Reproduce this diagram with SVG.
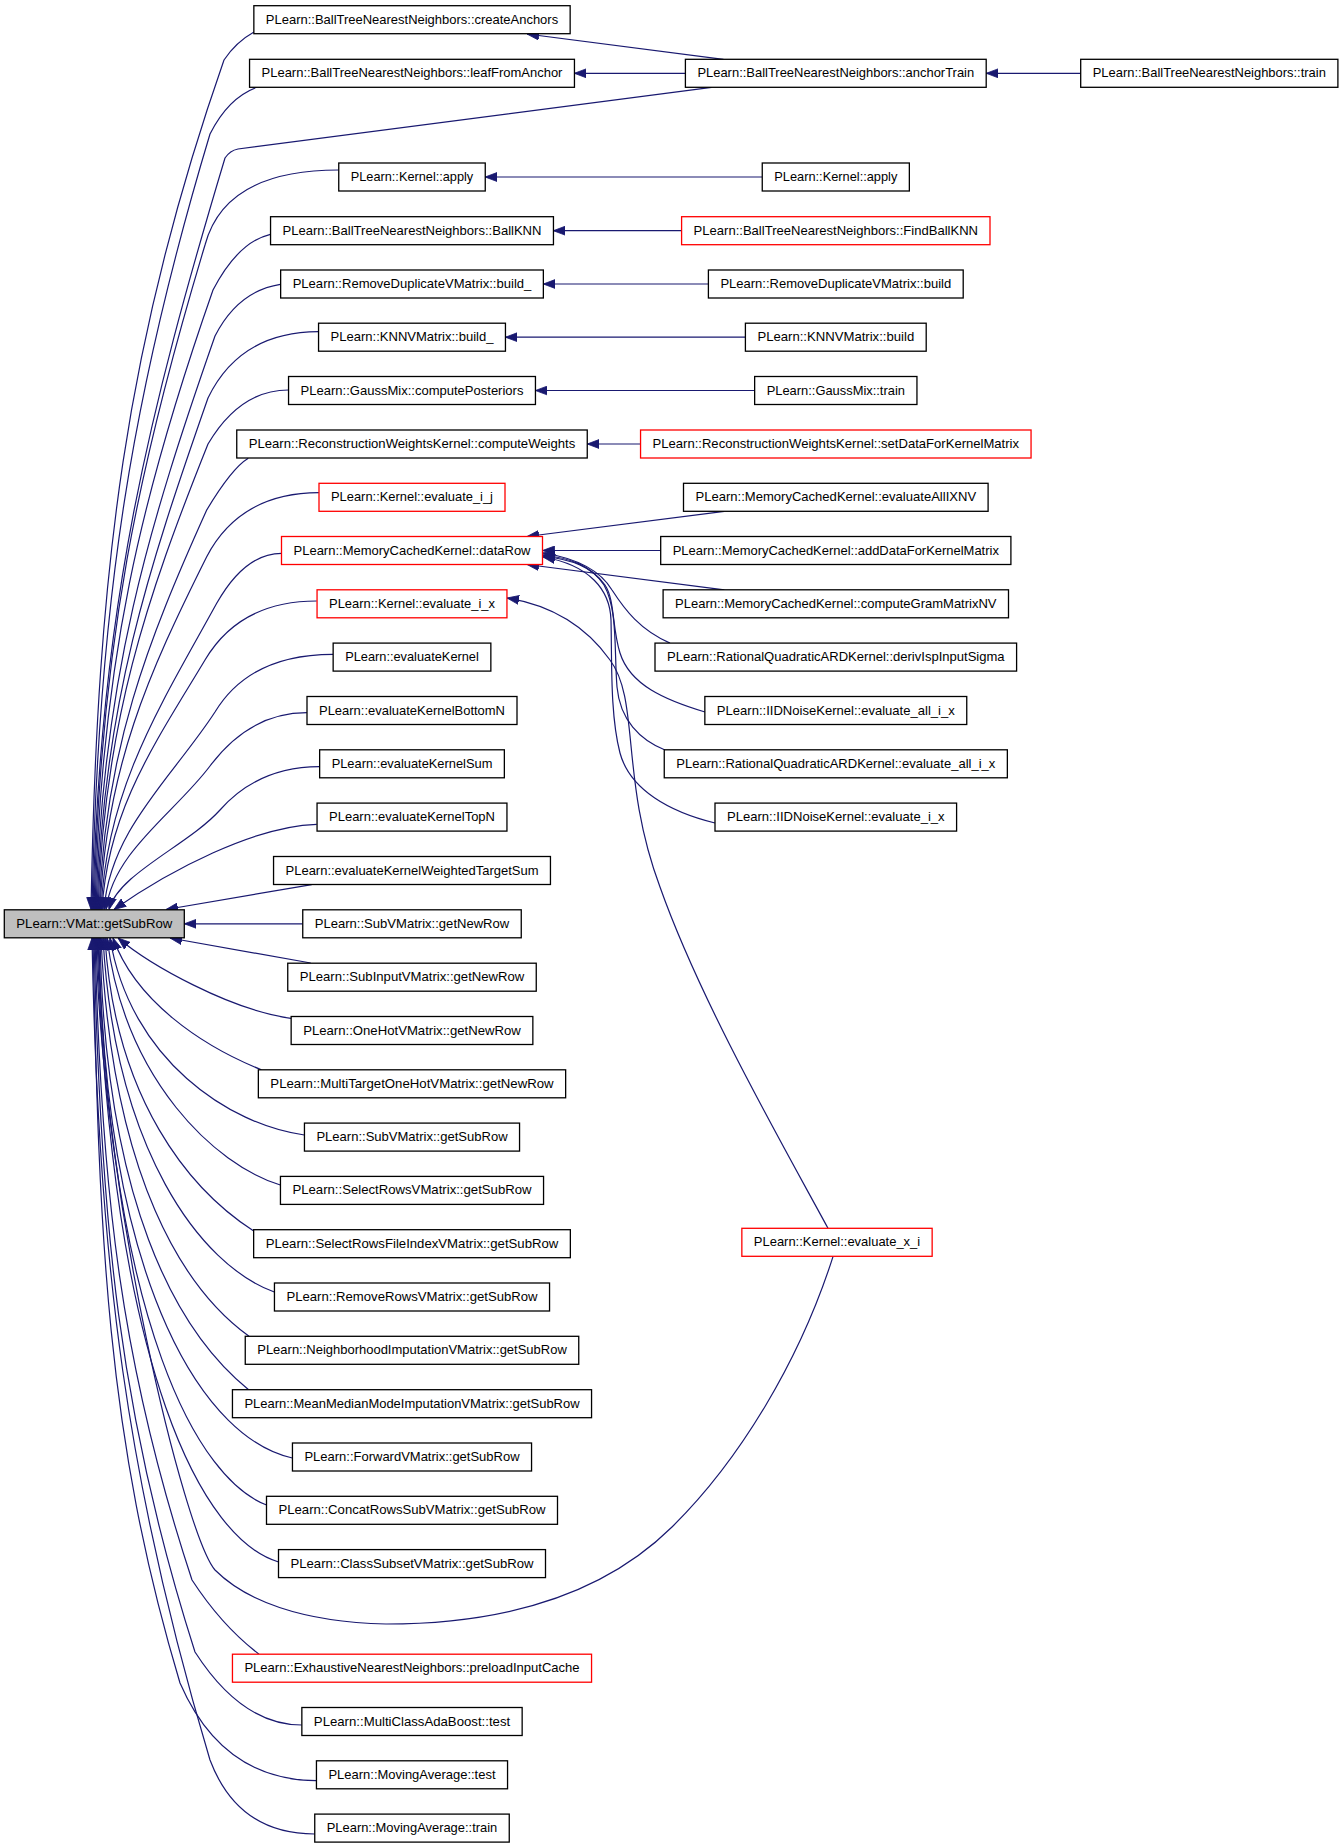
<svg xmlns="http://www.w3.org/2000/svg" width="1344" height="1848" viewBox="0 0 1344 1848">
<style>
.n rect{fill:#ffffff;stroke:#000000;stroke-width:1.3}
.n.red rect{stroke:#ff0000}
.n.root rect{fill:#bfbfbf}
.n text{font-family:"Liberation Sans",Arial,sans-serif;font-size:13.5px;fill:#000000;text-anchor:middle}
#edges path{fill:none;stroke:#191970;stroke-width:1.2;marker-end:url(#arr)}
</style>
<defs>
<marker id="arr" markerUnits="userSpaceOnUse" markerWidth="12" markerHeight="10" refX="12" refY="5" orient="auto" viewBox="0 0 12 10">
<path d="M0,0.5 L12,5 L0,9.5 z" fill="#191970" stroke="#191970" stroke-width="0.8"/>
</marker>
</defs>
<rect x="0" y="0" width="1344" height="1848" fill="#ffffff"/>
<g id="edges">
<path d="M254,32 Q236,42 224,60 C126,340 97,569 91,909.5"/>
<path d="M256.7,87.3 Q228,98 210,134 C133,390 98,599 92,909.5"/>
<path d="M711.5,87.3 L238,149 Q230,150.5 225,158 C150.6,406 99,609 93,909.5"/>
<path d="M338.6,170 Q225,170 205,245 C139,464 100,643 94,909.5"/>
<path d="M270.4,234.3 Q238,242 213,290 C141.6,494 101,661 95,909.5"/>
<path d="M280.3,284.3 Q238,291 215,336 C148.9,525 102,680 96,909.5"/>
<path d="M318.4,331.7 Q240,332 208,398 C148.9,567 103,705 97,909.5"/>
<path d="M288.4,390 Q240,390 208,444 C146.6,597.5 104,723 98,909.5"/>
<path d="M248.3,458.3 Q232,468 206.7,510 C147.4,641.7 105,749.4 99,909.5"/>
<path d="M318.9,492.7 Q240,493 206.7,556.7 C148.7,672.7 106,768 100,909.5"/>
<path d="M281.6,553.3 Q245,553.3 216.7,603.3 C161.2,704.3 107,787 101,909.5"/>
<path d="M316.7,601 Q240,601 205,660 C155.8,742 108,809 102,909.5"/>
<path d="M333,654.3 Q250,654.3 215,712 C172.75,777 110,830 104,909.5"/>
<path d="M306.9,712.7 Q250,712.7 210,766 C174.75,813 113,852 106,909.5"/>
<path d="M319.3,766.7 Q258,767 220,810 C188.5,845 118,874 109,909.5"/>
<path d="M316.7,824.3 C255,826 170,870 114,909.5"/>
<path d="M311.7,884.6 L166,909.5"/>
<path d="M302.6,923.8 L184.3,923.8"/>
<path d="M310.7,963 L170,938"/>
<path d="M291,1018.3 C230,1010 150,965 118,938"/>
<path d="M261.4,1069.8 C200,1045 135,1000 113,938"/>
<path d="M304.3,1135 C230,1125 130,1060 110,938"/>
<path d="M280.3,1185 C215,1165 125,1080 107,938"/>
<path d="M253.7,1231 C190,1190 115,1100 105,938"/>
<path d="M274.3,1292 C200,1265 115,1150 103,938"/>
<path d="M249,1336.3 C185,1290 112,1180 101,938"/>
<path d="M248.6,1389.7 C175,1330 105,1200 100,938"/>
<path d="M292.3,1458 C210,1440 105,1300 99,938"/>
<path d="M266.6,1505 C200,1480 110,1330 98,938"/>
<path d="M278.6,1562 C205,1540 112,1380 97,938"/>
<path d="M833,1256.6 C800,1360 740,1460 672,1527 C600,1598 500,1624 386,1624 C300,1622 245,1600 215,1570 C185,1535 102,1200 96,938"/>
<path d="M259,1654.2 Q222,1626 192,1580 C122.2,1368.5 101,1195 95,938"/>
<path d="M301.7,1725 Q242,1725 195,1652 C119.8,1417 100,1224 94,938"/>
<path d="M316.3,1780.7 Q222,1780 180,1683 C106.4,1437.5 99,1236.6 93,938"/>
<path d="M314.6,1834 Q238,1834 210,1760 C128.7,1489 98,1267 92,938"/>
<path d="M723.4,59.3 L527,34"/>
<path d="M685.4,73.3 L574.3,73.3"/>
<path d="M1080.7,73.3 L986.2,73.3"/>
<path d="M762.3,177 L485.1,177"/>
<path d="M681.6,230.7 L553.3,230.7"/>
<path d="M708.4,284 L543.3,284"/>
<path d="M745.4,337.2 L505.4,337.2"/>
<path d="M754.6,390.5 L535.4,390.5"/>
<path d="M640.5,444 L587.2,444"/>
<path d="M724.3,511.3 L527,536.5"/>
<path d="M660.7,550.5 L542.6,550.5"/>
<path d="M724.3,589.8 L527,564.5"/>
<path d="M670,643.1 C640,630 625,610 612,590 C600,570 575,558 543,553"/>
<path d="M705,712 C665,700 630,685 620,653 C612,628 615,600 605,585 C590,565 570,558 543,555"/>
<path d="M665,750 C640,740 620,720 617,687 C614,650 618,610 604,585 C592,566 572,560 543,556"/>
<path d="M715,823 C670,812 630,790 620,753 C610,715 612,660 611,620 C610,590 590,565 543,557"/>
<path d="M828,1228.3 C780,1140 700,1000 660,887 C620,780 640,700 610,660 C585,625 550,605 507,598"/>
</g>
<g id="n_root" class="n root"><rect x="4.3" y="909.8" width="180" height="28"/><text x="94.3" y="927.8" textLength="156" lengthAdjust="spacingAndGlyphs">PLearn::VMat::getSubRow</text></g>
<g id="n_createAnchors" class="n"><rect x="253.85" y="5.7" width="316.3" height="28"/><text x="412" y="23.7" textLength="292.3" lengthAdjust="spacingAndGlyphs">PLearn::BallTreeNearestNeighbors::createAnchors</text></g>
<g id="n_leafFromAnchor" class="n"><rect x="249.55" y="59.3" width="324.9" height="28"/><text x="412" y="77.3" textLength="300.9" lengthAdjust="spacingAndGlyphs">PLearn::BallTreeNearestNeighbors::leafFromAnchor</text></g>
<g id="n_kapply" class="n"><rect x="338.75" y="163" width="146.5" height="28"/><text x="412" y="181" textLength="122.5" lengthAdjust="spacingAndGlyphs">PLearn::Kernel::apply</text></g>
<g id="n_ballKNN" class="n"><rect x="270.55" y="216.7" width="282.9" height="28"/><text x="412" y="234.7" textLength="258.9" lengthAdjust="spacingAndGlyphs">PLearn::BallTreeNearestNeighbors::BallKNN</text></g>
<g id="n_rdBuild_" class="n"><rect x="280.65" y="270" width="262.7" height="28"/><text x="412" y="288" textLength="238.7" lengthAdjust="spacingAndGlyphs">PLearn::RemoveDuplicateVMatrix::build_</text></g>
<g id="n_knnBuild_" class="n"><rect x="318.55" y="323.2" width="186.9" height="28"/><text x="412" y="341.2" textLength="162.9" lengthAdjust="spacingAndGlyphs">PLearn::KNNVMatrix::build_</text></g>
<g id="n_gmPost" class="n"><rect x="288.55" y="376.5" width="246.9" height="28"/><text x="412" y="394.5" textLength="222.9" lengthAdjust="spacingAndGlyphs">PLearn::GaussMix::computePosteriors</text></g>
<g id="n_rwCompute" class="n"><rect x="236.75" y="430" width="350.5" height="28"/><text x="412" y="448" textLength="326.5" lengthAdjust="spacingAndGlyphs">PLearn::ReconstructionWeightsKernel::computeWeights</text></g>
<g id="n_evalij" class="n red"><rect x="319" y="483.3" width="186" height="28"/><text x="412" y="501.3" textLength="162" lengthAdjust="spacingAndGlyphs">PLearn::Kernel::evaluate_i_j</text></g>
<g id="n_dataRow" class="n red"><rect x="281.5" y="536.5" width="261" height="28"/><text x="412" y="554.5" textLength="237" lengthAdjust="spacingAndGlyphs">PLearn::MemoryCachedKernel::dataRow</text></g>
<g id="n_evalix" class="n red"><rect x="317.05" y="589.8" width="189.9" height="28"/><text x="412" y="607.8" textLength="165.9" lengthAdjust="spacingAndGlyphs">PLearn::Kernel::evaluate_i_x</text></g>
<g id="n_evK" class="n"><rect x="333.15" y="643.1" width="157.7" height="28"/><text x="412" y="661.1" textLength="133.7" lengthAdjust="spacingAndGlyphs">PLearn::evaluateKernel</text></g>
<g id="n_evKB" class="n"><rect x="307" y="696.5" width="210" height="28"/><text x="412" y="714.5" textLength="186" lengthAdjust="spacingAndGlyphs">PLearn::evaluateKernelBottomN</text></g>
<g id="n_evKS" class="n"><rect x="319.65" y="749.8" width="184.7" height="28"/><text x="412" y="767.8" textLength="160.7" lengthAdjust="spacingAndGlyphs">PLearn::evaluateKernelSum</text></g>
<g id="n_evKT" class="n"><rect x="317.05" y="803.1" width="189.9" height="28"/><text x="412" y="821.1" textLength="165.9" lengthAdjust="spacingAndGlyphs">PLearn::evaluateKernelTopN</text></g>
<g id="n_evKW" class="n"><rect x="273.55" y="856.5" width="276.9" height="28"/><text x="412" y="874.5" textLength="252.9" lengthAdjust="spacingAndGlyphs">PLearn::evaluateKernelWeightedTargetSum</text></g>
<g id="n_subNew" class="n"><rect x="302.75" y="909.8" width="218.5" height="28"/><text x="412" y="927.8" textLength="194.5" lengthAdjust="spacingAndGlyphs">PLearn::SubVMatrix::getNewRow</text></g>
<g id="n_subInNew" class="n"><rect x="287.75" y="963.2" width="248.5" height="28"/><text x="412" y="981.2" textLength="224.5" lengthAdjust="spacingAndGlyphs">PLearn::SubInputVMatrix::getNewRow</text></g>
<g id="n_oneHot" class="n"><rect x="291.15" y="1016.5" width="241.7" height="28"/><text x="412" y="1034.5" textLength="217.7" lengthAdjust="spacingAndGlyphs">PLearn::OneHotVMatrix::getNewRow</text></g>
<g id="n_multiT" class="n"><rect x="258.35" y="1069.8" width="307.3" height="28"/><text x="412" y="1087.8" textLength="283.3" lengthAdjust="spacingAndGlyphs">PLearn::MultiTargetOneHotVMatrix::getNewRow</text></g>
<g id="n_subSub" class="n"><rect x="304.45" y="1123.1" width="215.1" height="28"/><text x="412" y="1141.1" textLength="191.1" lengthAdjust="spacingAndGlyphs">PLearn::SubVMatrix::getSubRow</text></g>
<g id="n_selRows" class="n"><rect x="280.45" y="1176.4" width="263.1" height="28"/><text x="412" y="1194.4" textLength="239.1" lengthAdjust="spacingAndGlyphs">PLearn::SelectRowsVMatrix::getSubRow</text></g>
<g id="n_selRowsFI" class="n"><rect x="253.65" y="1229.7" width="316.7" height="28"/><text x="412" y="1247.7" textLength="292.7" lengthAdjust="spacingAndGlyphs">PLearn::SelectRowsFileIndexVMatrix::getSubRow</text></g>
<g id="n_remRows" class="n"><rect x="274.45" y="1283" width="275.1" height="28"/><text x="412" y="1301" textLength="251.1" lengthAdjust="spacingAndGlyphs">PLearn::RemoveRowsVMatrix::getSubRow</text></g>
<g id="n_neigh" class="n"><rect x="245.25" y="1336.3" width="333.5" height="28"/><text x="412" y="1354.3" textLength="309.5" lengthAdjust="spacingAndGlyphs">PLearn::NeighborhoodImputationVMatrix::getSubRow</text></g>
<g id="n_meanMed" class="n"><rect x="232.45" y="1389.7" width="359.1" height="28"/><text x="412" y="1407.7" textLength="335.1" lengthAdjust="spacingAndGlyphs">PLearn::MeanMedianModeImputationVMatrix::getSubRow</text></g>
<g id="n_forward" class="n"><rect x="292.45" y="1443" width="239.1" height="28"/><text x="412" y="1461" textLength="215.1" lengthAdjust="spacingAndGlyphs">PLearn::ForwardVMatrix::getSubRow</text></g>
<g id="n_concat" class="n"><rect x="266.5" y="1496.3" width="291" height="28"/><text x="412" y="1514.3" textLength="267" lengthAdjust="spacingAndGlyphs">PLearn::ConcatRowsSubVMatrix::getSubRow</text></g>
<g id="n_classSub" class="n"><rect x="278.5" y="1549.6" width="267" height="28"/><text x="412" y="1567.6" textLength="243" lengthAdjust="spacingAndGlyphs">PLearn::ClassSubsetVMatrix::getSubRow</text></g>
<g id="n_exhaust" class="n red"><rect x="232.45" y="1654.2" width="359.1" height="28"/><text x="412" y="1672.2" textLength="335.1" lengthAdjust="spacingAndGlyphs">PLearn::ExhaustiveNearestNeighbors::preloadInputCache</text></g>
<g id="n_mcab" class="n"><rect x="301.85" y="1707.5" width="220.3" height="28"/><text x="412" y="1725.5" textLength="196.3" lengthAdjust="spacingAndGlyphs">PLearn::MultiClassAdaBoost::test</text></g>
<g id="n_maTest" class="n"><rect x="316.45" y="1760.8" width="191.1" height="28"/><text x="412" y="1778.8" textLength="167.1" lengthAdjust="spacingAndGlyphs">PLearn::MovingAverage::test</text></g>
<g id="n_maTrain" class="n"><rect x="314.75" y="1814.1" width="194.5" height="28"/><text x="412" y="1832.1" textLength="170.5" lengthAdjust="spacingAndGlyphs">PLearn::MovingAverage::train</text></g>
<g id="n_anchorTrain" class="n"><rect x="685.4" y="59.3" width="300.8" height="28"/><text x="835.8" y="77.3" textLength="276.8" lengthAdjust="spacingAndGlyphs">PLearn::BallTreeNearestNeighbors::anchorTrain</text></g>
<g id="n_btTrain" class="n"><rect x="1080.7" y="59.3" width="257.2" height="28"/><text x="1209.3" y="77.3" textLength="233.2" lengthAdjust="spacingAndGlyphs">PLearn::BallTreeNearestNeighbors::train</text></g>
<g id="n_kapply2" class="n"><rect x="762.25" y="163" width="147.1" height="28"/><text x="835.8" y="181" textLength="123.1" lengthAdjust="spacingAndGlyphs">PLearn::Kernel::apply</text></g>
<g id="n_findBall" class="n red"><rect x="681.6" y="216.7" width="308.4" height="28"/><text x="835.8" y="234.7" textLength="284.4" lengthAdjust="spacingAndGlyphs">PLearn::BallTreeNearestNeighbors::FindBallKNN</text></g>
<g id="n_rdBuild" class="n"><rect x="708.4" y="270" width="254.8" height="28"/><text x="835.8" y="288" textLength="230.8" lengthAdjust="spacingAndGlyphs">PLearn::RemoveDuplicateVMatrix::build</text></g>
<g id="n_knnBuild" class="n"><rect x="745.4" y="323.2" width="180.8" height="28"/><text x="835.8" y="341.2" textLength="156.8" lengthAdjust="spacingAndGlyphs">PLearn::KNNVMatrix::build</text></g>
<g id="n_gmTrain" class="n"><rect x="754.65" y="376.5" width="162.3" height="28"/><text x="835.8" y="394.5" textLength="138.3" lengthAdjust="spacingAndGlyphs">PLearn::GaussMix::train</text></g>
<g id="n_setData" class="n red"><rect x="640.55" y="430" width="390.5" height="28"/><text x="835.8" y="448" textLength="366.5" lengthAdjust="spacingAndGlyphs">PLearn::ReconstructionWeightsKernel::setDataForKernelMatrix</text></g>
<g id="n_evAll" class="n"><rect x="683.5" y="483.3" width="304.6" height="28"/><text x="835.8" y="501.3" textLength="280.6" lengthAdjust="spacingAndGlyphs">PLearn::MemoryCachedKernel::evaluateAllIXNV</text></g>
<g id="n_addData" class="n"><rect x="660.7" y="536.5" width="350.2" height="28"/><text x="835.8" y="554.5" textLength="326.2" lengthAdjust="spacingAndGlyphs">PLearn::MemoryCachedKernel::addDataForKernelMatrix</text></g>
<g id="n_gram" class="n"><rect x="663.1" y="589.8" width="345.4" height="28"/><text x="835.8" y="607.8" textLength="321.4" lengthAdjust="spacingAndGlyphs">PLearn::MemoryCachedKernel::computeGramMatrixNV</text></g>
<g id="n_deriv" class="n"><rect x="655" y="643.1" width="361.6" height="28"/><text x="835.8" y="661.1" textLength="337.6" lengthAdjust="spacingAndGlyphs">PLearn::RationalQuadraticARDKernel::derivIspInputSigma</text></g>
<g id="n_iidAll" class="n"><rect x="704.85" y="696.5" width="261.9" height="28"/><text x="835.8" y="714.5" textLength="237.9" lengthAdjust="spacingAndGlyphs">PLearn::IIDNoiseKernel::evaluate_all_i_x</text></g>
<g id="n_rqAll" class="n"><rect x="664.25" y="749.8" width="343.1" height="28"/><text x="835.8" y="767.8" textLength="319.1" lengthAdjust="spacingAndGlyphs">PLearn::RationalQuadraticARDKernel::evaluate_all_i_x</text></g>
<g id="n_iidIx" class="n"><rect x="715" y="803.1" width="241.6" height="28"/><text x="835.8" y="821.1" textLength="217.6" lengthAdjust="spacingAndGlyphs">PLearn::IIDNoiseKernel::evaluate_i_x</text></g>
<g id="n_evalxi" class="n red"><rect x="741.85" y="1228.3" width="190.3" height="28"/><text x="837" y="1246.3" textLength="166.3" lengthAdjust="spacingAndGlyphs">PLearn::Kernel::evaluate_x_i</text></g>
</svg>
